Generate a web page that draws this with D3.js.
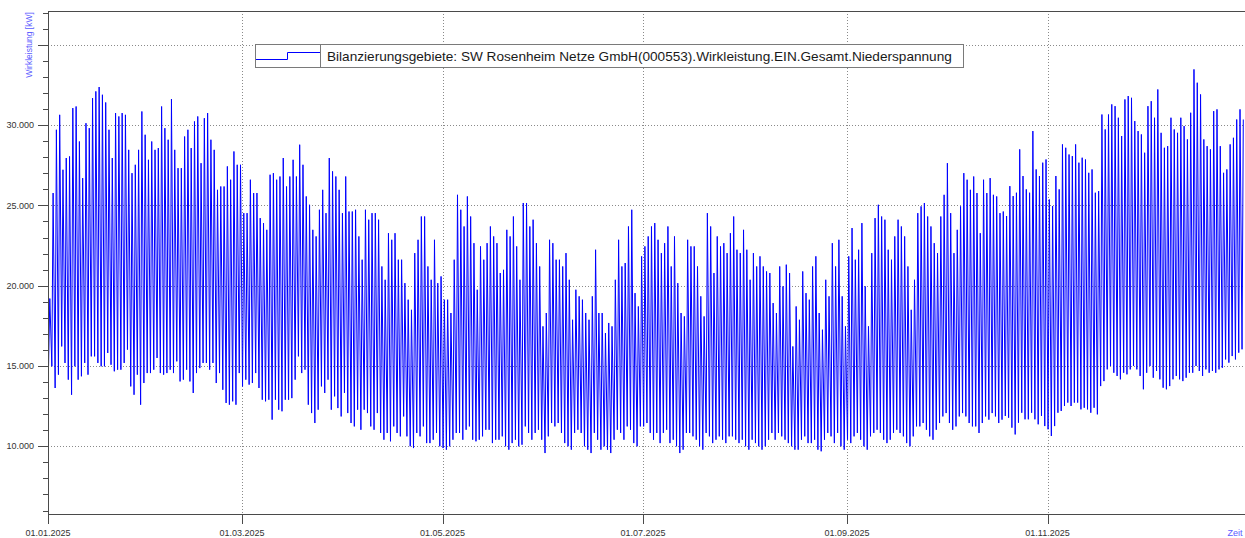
<!DOCTYPE html>
<html>
<head>
<meta charset="utf-8">
<script src="https://cdn.jsdelivr.net/npm/d3@7"></script>
<style>
  html, body { margin: 0; padding: 0; background: #fff; }
  svg { display: block; }
  text { font-family: "Liberation Sans", Arial, sans-serif; }
</style>
</head>
<body>
<svg id="chart" width="1245" height="538"></svg>
<script>
// ---------------- DATA (kW; one value per day) ----------------
const seriesName = "Bilanzierungsgebiete: SW Rosenheim Netze GmbH(000553).Wirkleistung.EIN.Gesamt.Niederspannung";
const startDate = "2025-01-01";

const dayMax = [
  19200,
  25770, 29710, 30640, 27220, 27950, 28050, 31060, 31160, 28980, 26700,
  30120, 29810, 31680, 32100, 32370, 31890, 31410, 29710, 27950, 30750,
  30540, 30750, 30640, 28460, 27010, 27530, 28460, 30850, 29400, 27840,
  28980, 28460, 28570, 31160, 29810, 29090, 31620, 28460, 27320, 27320,
  29290, 29710, 28570, 30230, 30540, 27630, 30430, 30750, 29090, 28460,
  25970, 26180, 26180, 27430, 26600, 28360, 27530, 27530, 24520, 24520,
  26600, 25770, 25770, 24210, 23900, 23480, 26910, 27010, 26600, 26800,
  27950, 26180,
  26800, 27840, 26800, 28780, 27530, 25560, 25040, 23480, 23070, 24730,
  25970, 24520, 27950, 27120, 26800, 25970, 24520, 26800, 24620, 24620,
  24730, 23070, 21620, 24730, 24110, 24520, 24520, 24110, 21200, 20370,
  23270, 22860, 23270, 21620, 21620, 20160, 19130, 18500, 22030, 22860,
  24310, 24310, 21200, 20370, 22860, 20160, 20580, 19130, 19130, 18300,
  21620, 25660, 24730, 23690, 25560, 24310, 22650, 19750, 22450, 21620,
  22650, 23690, 23070, 22650, 20790, 20990, 23480, 23070, 24310, 22450,
  20370, 25150,
  25150, 23690, 24110, 22650, 21200, 17470, 18300, 22860, 22650, 21620,
  21620, 21200, 22030, 20370, 17880, 19750, 19340, 19130, 18300, 17880,
  19340, 22240, 18300, 18300, 17050, 17680, 17470, 20370, 22860, 21200,
  21410, 23690, 24730, 19540, 18710, 21830, 22450, 23070, 23690, 23900,
  22860, 22030, 22650, 23690, 21200, 23070, 20160, 18300, 18090, 22860,
  22450, 22450, 21200, 19340, 18090, 24520, 23690, 20790, 23070, 22450,
  22650, 22030, 23270, 24310, 22240, 22030, 23480, 22240, 20370, 22030,
  21200, 21830, 21200,
  20890, 20790, 18920, 18300, 21200, 19960, 21310, 20790, 16220, 18710,
  17880, 20890, 19540, 19130, 21200, 21830, 18300, 17260, 20370, 19340,
  22650, 21200, 22860, 19340, 17470, 21830, 23590, 21620, 22240, 23900,
  19960, 17470, 22030, 24210, 25040, 24310, 24110, 22240, 21620, 23070,
  24110, 23690, 23070, 21200, 18500, 20370, 24520, 24940, 25150, 24310,
  23690, 22650, 22030, 24310, 25660, 27630, 24520, 22030, 23480, 24940,
  27010, 26600, 25970, 26800, 25770, 23270, 26600, 25770, 26700, 25660,
  25560, 24520, 24620,
  24340, 26200, 25580, 25790, 28490, 26830, 26000, 25790, 29630, 27240,
  26830, 27660, 27860, 25370, 24960, 26830, 26000, 28800, 28590, 28170,
  28070, 28800, 27660, 27970, 27860, 27030, 27240, 25790, 25890, 30660,
  29730, 30660, 31290, 31180, 30460, 29320, 31600, 31810, 31700, 30250,
  29630, 29420, 28280, 31180, 31490, 30460, 32220, 29520, 28590, 28690,
  30460, 29730, 29520, 30460, 29940, 29110, 30770, 33470, 32640, 31910,
  29110, 28690, 28490, 30870, 30980, 28690, 27030, 27240, 28800, 29210,
  30350, 30980, 30350
];

const dayMin = [
  15000,
  14980, 13630, 14460, 16220, 15190, 14150, 13210, 14980, 14150, 14360,
  15190, 14460, 15600, 15600, 15190, 14980, 14980, 15810, 15080, 14670,
  14770, 14770, 15190, 16020, 13730, 13210, 14460, 12590, 13940, 14560,
  14560, 14770, 15500, 14560, 14460, 14560, 14770, 14560, 15290, 14040,
  14150, 14770, 14040, 13320, 14560, 14870, 15190, 15190, 14770, 15190,
  13940, 14560, 13520, 12700, 12590, 12800, 12590, 14560, 13730, 14150,
  13840, 13940, 14560, 13630, 12900, 12800, 12900, 11660, 12900, 12280,
  12180, 12900,
  12900, 13000, 14150, 15600, 14560, 14770, 12590, 12070, 11450, 12280,
  13730, 13320, 14150, 12280, 13110, 12380, 11860, 13320, 12070, 11450,
  11240, 12280, 11030, 12280, 12070, 11240, 11030, 12070, 10830, 10410,
  10830, 10310, 11240, 10830, 10620, 11860, 10620, 10000, 9890, 10830,
  10620, 11240, 10200, 10200, 10410, 10830, 10000, 9890, 9790, 10000,
  10410, 10830, 10830, 10410, 11030, 11240, 10410, 10310, 10410, 10620,
  11030, 11030, 10200, 10410, 10410, 10620, 10000, 9790, 10200, 10410,
  10000, 10100,
  11240, 10830, 10410, 10830, 11030, 10410, 9580, 10620, 11450, 11240,
  11450, 10830, 10200, 10000, 9790, 10830, 11030, 10830, 10000, 9790,
  9580, 10830, 10410, 9790, 10000, 9790, 9580, 10410, 11030, 10830,
  10410, 11240, 11030, 10200, 10000, 11240, 11240, 11450, 10830, 10410,
  10830, 10200, 10830, 11030, 10200, 10410, 10000, 9580, 9790, 10830,
  10830, 10620, 10410, 10000, 9790, 10830, 10620, 10200, 10410, 10620,
  10410, 10200, 10620, 10620, 10410, 10200, 10410, 10000, 9790, 10410,
  10200, 10000, 9790,
  10000, 10410, 10830, 10410, 10830, 10620, 10410, 10200, 10000, 9790,
  9790, 10410, 10620, 10200, 10200, 10410, 9790, 9690, 10410, 10830,
  10620, 10200, 10830, 10000, 9790, 10410, 10200, 10620, 10830, 10410,
  10000, 9790, 10620, 10830, 11030, 10830, 10410, 10200, 10410, 10830,
  11030, 10830, 10620, 10200, 10000, 10620, 11240, 11240, 11450, 11030,
  10620, 10410, 11030, 11450, 11860, 12070, 11450, 11030, 11240, 11860,
  12070, 11860, 11450, 11240, 11240, 10830, 11450, 11860, 11660, 12070,
  11860, 11450, 11660,
  11890, 11780, 11160, 10740, 11470, 12090, 11680, 11680, 12090, 11680,
  11370, 11890, 11260, 11060, 10640, 11260, 12090, 12200, 12510, 12720,
  12510, 12720, 12720, 12300, 12400, 12300, 12090, 12400, 11990, 13750,
  14060, 14790, 15000, 14580, 14380, 14170, 14580, 14480, 14790, 15000,
  14790, 14380, 13550, 14580, 15000, 14270, 14690, 14170, 13650, 13550,
  13750, 14170, 14380, 14170, 14060, 14270, 14580, 14580, 15000, 14690,
  14380, 14790, 14580, 14690, 14580, 14790, 14890, 15410, 15210, 15620,
  15410, 15830, 16040
];

const xTickDates = ["2025-01-01", "2025-03-01", "2025-05-01", "2025-07-01", "2025-09-01", "2025-11-01"];
const yLabelValues = [10000, 15000, 20000, 25000, 30000];
const yGridValues = [10000, 15000, 20000, 25000, 30000, 35000];
const yMinorStep = 1000;
const yAxisTitle = "Wirkleistung [kW]";
const xAxisTitle = "Zeit";

// ---------------- CHART ----------------
(function () {
const W = 1245, H = 538;
const pL = 48, pR = 1245, pT = 11, pB = 514;
const DAY = 86400000;
const t0 = Date.parse(startDate + "T00:00:00Z");

const x = d3.scaleUtc()
  .domain([new Date(t0), new Date(t0 + 364.07 * DAY)])
  .range([pL, pR]);
const y = d3.scaleLinear().domain([5785, 37105]).range([pB, pT]);

const de = d3.formatLocale({decimal: ",", thousands: ".", grouping: [3], currency: ["", " €"]});
const fmtY = de.format(",d");
const fmtX = d3.utcFormat("%d.%m.%Y");
const dt = s => new Date(s + "T00:00:00Z");

const svg = d3.select("#chart");
svg.append("rect").attr("width", W).attr("height", H).attr("fill", "#fff");

// gridlines
const grid = svg.append("g");
grid.selectAll("line.h").data(yGridValues).join("line")
  .attr("x1", pL).attr("x2", pR)
  .attr("y1", d => Math.round(y(d)) + 0.5).attr("y2", d => Math.round(y(d)) + 0.5)
  .attr("stroke", "#8a8a8a").attr("stroke-width", 1).attr("stroke-dasharray", "1,2");
grid.selectAll("line.v").data(xTickDates.slice(1)).join("line")
  .attr("x1", d => Math.round(x(dt(d))) + 0.5)
  .attr("x2", d => Math.round(x(dt(d))) + 0.5)
  .attr("y1", pT).attr("y2", pB)
  .attr("stroke", "#8a8a8a").attr("stroke-width", 1).attr("stroke-dasharray", "1,2");

// data line: per day a night minimum and a daytime maximum
const pts = [];
dayMax.forEach((mx, i) => {
  pts.push({t: new Date(t0 + (i + 0.17) * DAY), v: dayMin[i]});
  pts.push({t: new Date(t0 + (i + 0.55) * DAY), v: mx});
});
const line = d3.line().x(d => x(d.t)).y(d => y(d.v));
svg.append("path").datum(pts)
  .attr("d", line)
  .attr("fill", "none")
  .attr("stroke", "#0000ff")
  .attr("stroke-width", 1);

// axes frame
const axisColor = "#4a4a4a";
svg.append("line").attr("x1", pL).attr("x2", pR).attr("y1", pT + 0.5).attr("y2", pT + 0.5)
  .attr("stroke", axisColor);
svg.append("line").attr("x1", pL + 0.5).attr("x2", pL + 0.5).attr("y1", pT).attr("y2", pB + 10)
  .attr("stroke", axisColor);
svg.append("line").attr("x1", pL).attr("x2", pR).attr("y1", pB + 0.5).attr("y2", pB + 0.5)
  .attr("stroke", axisColor);

// y ticks
const minor = d3.range(6000, 37001, yMinorStep);
svg.append("g").selectAll("line").data(minor).join("line")
  .attr("x1", d => (d % 5000 === 0) ? pL - 10 : pL - 5).attr("x2", pL)
  .attr("y1", d => Math.round(y(d)) + 0.5).attr("y2", d => Math.round(y(d)) + 0.5)
  .attr("stroke", axisColor);
svg.append("g").selectAll("text").data(yLabelValues).join("text")
  .attr("x", 34).attr("y", d => y(d)).attr("dy", "0.35em")
  .attr("text-anchor", "end").attr("font-size", 9).attr("fill", "#333")
  .text(d => fmtY(d));

// x ticks
svg.append("g").selectAll("line").data(xTickDates).join("line")
  .attr("x1", d => Math.round(x(dt(d))) + 0.5)
  .attr("x2", d => Math.round(x(dt(d))) + 0.5)
  .attr("y1", pB).attr("y2", pB + 10)
  .attr("stroke", axisColor);
svg.append("g").selectAll("text").data(xTickDates).join("text")
  .attr("x", d => x(dt(d))).attr("y", 536)
  .attr("text-anchor", "middle").attr("font-size", 9).attr("fill", "#333")
  .text(d => fmtX(dt(d)));

// axis titles
svg.append("text").attr("x", 1235).attr("y", 536).attr("text-anchor", "middle")
  .attr("font-size", 9).attr("fill", "#5a5aff").text(xAxisTitle);
svg.append("text").attr("transform", "translate(32,45) rotate(-90)")
  .attr("text-anchor", "middle").attr("font-size", 8.5).attr("fill", "#5a5aff")
  .text(yAxisTitle);

// legend
const lg = svg.append("g");
const lx0 = 255, ly0 = 44, lx1 = 963, ly1 = 67, ldiv = 320;
lg.append("rect").attr("x", lx0 + 0.5).attr("y", ly0 + 0.5).attr("width", lx1 - lx0).attr("height", ly1 - ly0)
  .attr("fill", "#fff").attr("stroke", "#7a7a7a");
lg.append("line").attr("x1", ldiv + 0.5).attr("x2", ldiv + 0.5).attr("y1", ly0).attr("y2", ly1)
  .attr("stroke", "#7a7a7a");
lg.append("path")
  .attr("d", `M${lx0 + 1},59.5 H287.5 V52.5 H${ldiv}`)
  .attr("fill", "none").attr("stroke", "#0000ff").attr("stroke-width", 1);
const lt = lg.append("text").attr("x", 327).attr("y", 56).attr("dy", "0.35em")
  .attr("font-size", 13).attr("fill", "#1a1a1a").text(seriesName);
const len = lt.node().getComputedTextLength();
lt.attr("font-size", 13 * 625 / len);
})();
</script>
</body>
</html>
